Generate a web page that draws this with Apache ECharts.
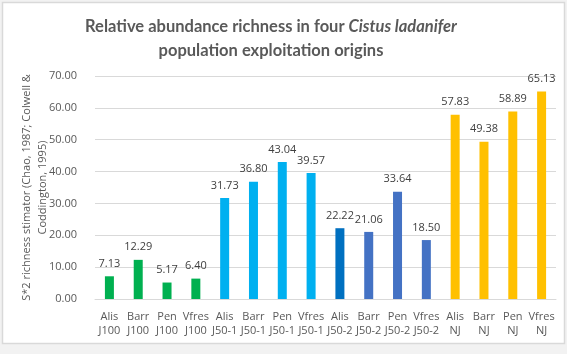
<!DOCTYPE html>
<html lang="en">
<head>
    <meta charset="UTF-8">
    <title>Cistus ladanifer richness</title>
    <style>
        html, body { margin: 0; padding: 0; background: #f2f2f2; }
        #container { width: 567px; height: 354px; }
    </style>
    <script src="https://cdn.jsdelivr.net/npm/echarts@6/dist/echarts.min.js"></script>
</head>
<body>
<div id="container"></div>
<script type="text/javascript">
    // categories shown under the bars (two lines each)
    var categories = [
        'Alis\nJ100', 'Barr\nJ100', 'Pen\nJ100', 'Vfres\nJ100',
        'Alis\nJ50-1', 'Barr\nJ50-1', 'Pen\nJ50-1', 'Vfres\nJ50-1',
        'Alis\nJ50-2', 'Barr\nJ50-2', 'Pen\nJ50-2', 'Vfres\nJ50-2',
        'Alis\nNJ', 'Barr\nNJ', 'Pen\nNJ', 'Vfres\nNJ'
    ];
    var values = [7.13, 12.29, 5.17, 6.40, 31.73, 36.80, 43.04, 39.57,
                  22.22, 21.06, 33.64, 18.50, 57.83, 49.38, 58.89, 65.13];
    var barColors = ['#00b050', '#00b050', '#00b050', '#00b050',
                     '#00b0f0', '#00b0f0', '#00b0f0', '#00b0f0',
                     '#0070c0', '#4472c4', '#4472c4', '#4472c4',
                     '#ffc000', '#ffc000', '#ffc000', '#ffc000'];
    var yTicks = [0, 10, 20, 30, 40, 50, 60, 70];

    var myChart = echarts.init(document.getElementById('container'));

    var option = {
        backgroundColor: '#f2f2f2',
        textStyle: { fontFamily: 'Open Sans' },
        graphic: [{
            type: 'rect',
            shape: { x: 2.5, y: 2.5, width: 562, height: 341 },
            style: { fill: '#ffffff', stroke: '#d9d9d9', lineWidth: 1.5 },
            z: -10
        }],
        title: {
            left: 266,
            textAlign: 'center',
            top: 10,
            text: '{b|Relative abundance richness in four }{i|Cistus ladanifer}\n{b|population exploitation origins}',
            textStyle: {
                rich: {
                    b: { fontSize: 16.5, fontWeight: 'bold', color: '#595959', fontFamily: 'Lato', lineHeight: 24 },
                    i: { fontSize: 16.5, fontWeight: 'bold', fontStyle: 'italic', color: '#595959', fontFamily: 'Lato', lineHeight: 24 }
                }
            }
        },
        grid: { left: 95, right: 11, top: 76, bottom: 55, containLabel: false },
        xAxis: {
            type: 'category',
            data: categories,
            axisTick: { show: false },
            axisLine: { lineStyle: { color: '#d9d9d9' } },
            axisLabel: { color: '#595959', fontSize: 11, lineHeight: 14, interval: 0, margin: 11 }
        },
        yAxis: {
            type: 'value',
            min: yTicks[0],
            max: yTicks[yTicks.length - 1],
            interval: 10,
            name: 'S*2 richness stimator (Chao, 1987; Colwell &\nCoddington, 1995)',
            nameLocation: 'middle',
            nameGap: 44,
            nameMoveOverlap: false,
            nameTextStyle: { color: '#595959', fontSize: 11, lineHeight: 16 },
            axisLabel: {
                color: '#595959', fontSize: 11, margin: 18,
                formatter: function (v) { return v.toFixed(2); }
            },
            splitLine: { lineStyle: { color: '#d9d9d9' } }
        },
        series: [{
            type: 'bar',
            data: values.map(function (v, i) {
                return { value: v, itemStyle: { color: barColors[i] } };
            }),
            barWidth: 9,
            label: {
                show: true,
                position: 'top',
                distance: 7,
                color: '#404040',
                fontSize: 11,
                formatter: function (p) { return p.value.toFixed(2); }
            }
        }]
    };

    myChart.setOption(option);
</script>
</body>
</html>
